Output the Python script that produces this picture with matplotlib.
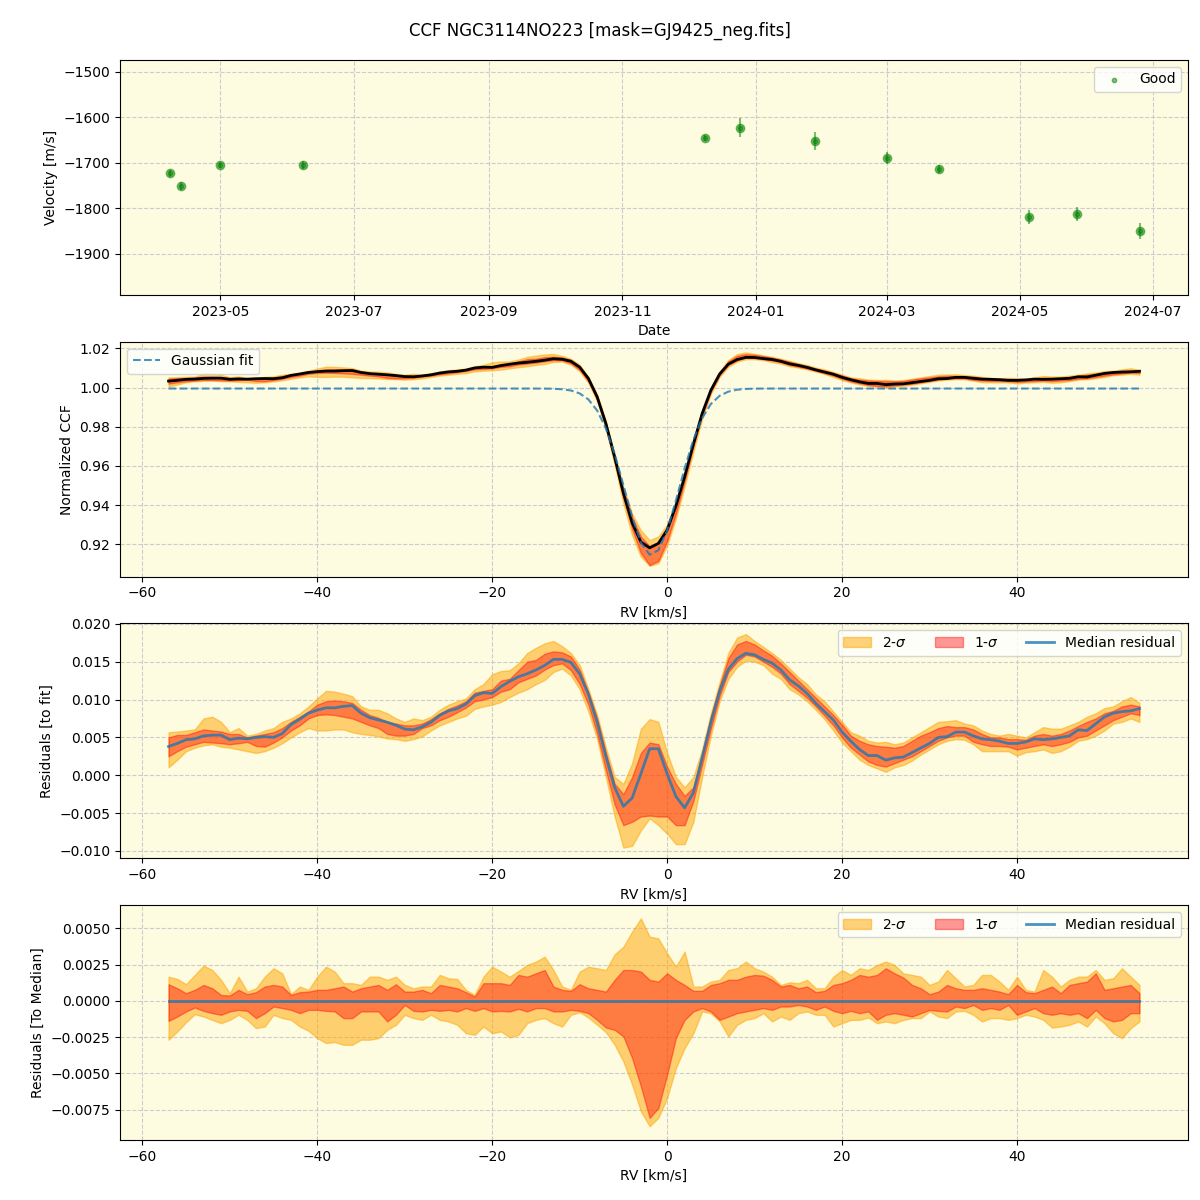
import numpy as np
import pandas as pd
import matplotlib
matplotlib.use('Agg')
import matplotlib.pyplot as plt
import matplotlib.dates as mdates
from matplotlib.ticker import MultipleLocator

# ---- time series (top panel) ----
obs_dates = ['2023-04-08', '2023-04-13', '2023-05-01', '2023-06-08', '2023-12-09', '2023-12-25',
             '2024-01-28', '2024-03-01', '2024-03-25', '2024-05-05', '2024-05-27', '2024-06-25']
velocity = [-1723, -1751, -1705, -1705, -1646, -1623, -1652, -1690, -1714, -1819, -1812, -1850]
velocity_err = [8, 8, 7, 8, 7, 21, 19, 13, 9, 15, 15, 18]

# ---- CCF grid, km/s ----
rv = np.arange(-57, 55, 1.0)

# gaussian fit parameters of the mean CCF
fit_continuum = 0.9995
fit_depth = 0.085
fit_center = -1.76
fit_sigma = 3.1

# median residual to the fit
median_resid = [
    0.0038, 0.0042, 0.0047, 0.0048, 0.0052, 0.0053, 0.0053, 0.0047, 0.0049, 0.0048,
    0.0050, 0.0051, 0.0050, 0.0055, 0.0067, 0.0074, 0.0082, 0.0086, 0.0089, 0.0089,
    0.0091, 0.0092, 0.0082, 0.0076, 0.0073, 0.0070, 0.0066, 0.0061, 0.0060, 0.0064,
    0.0070, 0.0079, 0.0085, 0.0088, 0.0094, 0.0105, 0.0109, 0.0108, 0.0117, 0.0124,
    0.0130, 0.0134, 0.0139, 0.0145, 0.0153, 0.0153, 0.0149, 0.0134, 0.0107, 0.0070,
    0.0025, -0.0016, -0.0041, -0.0030, 0.0002, 0.0035, 0.0035, 0.0002, -0.0028, -0.0043,
    -0.0023, 0.0023, 0.0070, 0.0111, 0.0140, 0.0154, 0.0161, 0.0159, 0.0153, 0.0148,
    0.0139, 0.0126, 0.0118, 0.0108, 0.0095, 0.0084, 0.0073, 0.0057, 0.0045, 0.0034,
    0.0026, 0.0026, 0.0020, 0.0023, 0.0024, 0.0030, 0.0036, 0.0042, 0.0050, 0.0051,
    0.0057, 0.0057, 0.0052, 0.0048, 0.0047, 0.0045, 0.0042, 0.0042, 0.0044, 0.0048,
    0.0047, 0.0048, 0.0050, 0.0052, 0.0060, 0.0059, 0.0068, 0.0077, 0.0082, 0.0084,
    0.0085, 0.0088]

# percentile bands of the residuals to the fit
res_2hi = [
    0.00568, 0.00577, 0.00591, 0.00605, 0.00750, 0.00773, 0.00705, 0.00568, 0.00623, 0.00523,
    0.00545, 0.00591, 0.00623, 0.00705, 0.00750, 0.00818, 0.00909, 0.01014, 0.01114, 0.01104,
    0.01077, 0.01045, 0.00909, 0.00864, 0.00864, 0.00818, 0.00750, 0.00705, 0.00750, 0.00727,
    0.00773, 0.00864, 0.00932, 0.00977, 0.01014, 0.01136, 0.01204, 0.01332, 0.01377, 0.01386,
    0.01477, 0.01613, 0.01682, 0.01741, 0.01773, 0.01704, 0.01613, 0.01454, 0.01136, 0.00795,
    0.00364, -0.00023, -0.00114, 0.00159, 0.00614, 0.00741, 0.00705, 0.00295, -0.00023, -0.00159,
    -0.00023, 0.00341, 0.00818, 0.01227, 0.01613, 0.01818, 0.01863, 0.01773, 0.01695, 0.01613,
    0.01523, 0.01409, 0.01295, 0.01204, 0.01068, 0.00977, 0.00841, 0.00705, 0.00568, 0.00523,
    0.00455, 0.00432, 0.00441, 0.00409, 0.00432, 0.00500, 0.00568, 0.00636, 0.00705, 0.00714,
    0.00727, 0.00682, 0.00659, 0.00591, 0.00545, 0.00523, 0.00545, 0.00523, 0.00500, 0.00568,
    0.00636, 0.00614, 0.00614, 0.00659, 0.00705, 0.00773, 0.00818, 0.00886, 0.00909, 0.00977,
    0.01032, 0.00955]
res_1hi = [
    0.00500, 0.00532, 0.00532, 0.00568, 0.00605, 0.00591, 0.00577, 0.00545, 0.00545, 0.00500,
    0.00523, 0.00545, 0.00568, 0.00623, 0.00705, 0.00773, 0.00841, 0.00932, 0.00977, 0.00986,
    0.00977, 0.00955, 0.00864, 0.00795, 0.00759, 0.00705, 0.00682, 0.00659, 0.00659, 0.00682,
    0.00741, 0.00818, 0.00877, 0.00923, 0.00977, 0.01091, 0.01114, 0.01136, 0.01250, 0.01273,
    0.01386, 0.01500, 0.01523, 0.01604, 0.01636, 0.01623, 0.01568, 0.01395, 0.01091, 0.00750,
    0.00295, -0.00114, -0.00250, -0.00023, 0.00295, 0.00432, 0.00409, 0.00114, -0.00114, -0.00273,
    -0.00159, 0.00273, 0.00773, 0.01182, 0.01545, 0.01727, 0.01773, 0.01727, 0.01650, 0.01577,
    0.01477, 0.01364, 0.01250, 0.01136, 0.01023, 0.00909, 0.00795, 0.00668, 0.00523, 0.00455,
    0.00409, 0.00386, 0.00377, 0.00364, 0.00386, 0.00455, 0.00523, 0.00568, 0.00623, 0.00650,
    0.00636, 0.00636, 0.00605, 0.00545, 0.00500, 0.00500, 0.00477, 0.00477, 0.00468, 0.00523,
    0.00545, 0.00523, 0.00545, 0.00591, 0.00650, 0.00705, 0.00750, 0.00818, 0.00850, 0.00909,
    0.00932, 0.00909]
res_1lo = [
    0.00250, 0.00318, 0.00377, 0.00409, 0.00441, 0.00432, 0.00423, 0.00409, 0.00423, 0.00441,
    0.00386, 0.00377, 0.00432, 0.00500, 0.00591, 0.00659, 0.00750, 0.00795, 0.00804, 0.00795,
    0.00773, 0.00750, 0.00705, 0.00659, 0.00623, 0.00545, 0.00523, 0.00523, 0.00545, 0.00623,
    0.00659, 0.00727, 0.00773, 0.00832, 0.00895, 0.00977, 0.01000, 0.01032, 0.01104, 0.01136,
    0.01227, 0.01273, 0.01318, 0.01395, 0.01454, 0.01477, 0.01386, 0.01204, 0.00932, 0.00545,
    0.00068, -0.00386, -0.00659, -0.00614, -0.00545, -0.00532, -0.00545, -0.00545, -0.00659, -0.00659,
    -0.00341, 0.00136, 0.00614, 0.01045, 0.01364, 0.01500, 0.01591, 0.01568, 0.01500, 0.01432,
    0.01341, 0.01204, 0.01114, 0.01023, 0.00909, 0.00786, 0.00659, 0.00500, 0.00364, 0.00273,
    0.00182, 0.00136, 0.00114, 0.00159, 0.00205, 0.00250, 0.00318, 0.00386, 0.00455, 0.00500,
    0.00523, 0.00523, 0.00441, 0.00409, 0.00386, 0.00386, 0.00377, 0.00341, 0.00364, 0.00386,
    0.00409, 0.00386, 0.00409, 0.00441, 0.00500, 0.00523, 0.00591, 0.00659, 0.00727, 0.00773,
    0.00818, 0.00795]
res_2lo = [
    0.00105, 0.00205, 0.00318, 0.00364, 0.00395, 0.00409, 0.00377, 0.00364, 0.00341, 0.00318,
    0.00295, 0.00318, 0.00364, 0.00423, 0.00500, 0.00568, 0.00623, 0.00591, 0.00591, 0.00605,
    0.00605, 0.00568, 0.00545, 0.00532, 0.00514, 0.00486, 0.00477, 0.00455, 0.00477, 0.00514,
    0.00591, 0.00659, 0.00705, 0.00750, 0.00786, 0.00877, 0.00909, 0.00932, 0.00968, 0.01032,
    0.01091, 0.01136, 0.01204, 0.01259, 0.01364, 0.01409, 0.01318, 0.01136, 0.00841, 0.00477,
    -0.00023, -0.00545, -0.00955, -0.00932, -0.00727, -0.00568, -0.00659, -0.00773, -0.00909, -0.00909,
    -0.00614, -0.00023, 0.00523, 0.00977, 0.01273, 0.01432, 0.01514, 0.01500, 0.01454, 0.01341,
    0.01273, 0.01136, 0.01068, 0.00977, 0.00864, 0.00741, 0.00591, 0.00432, 0.00318, 0.00205,
    0.00136, 0.00091, 0.00045, 0.00105, 0.00136, 0.00195, 0.00273, 0.00341, 0.00409, 0.00455,
    0.00477, 0.00468, 0.00409, 0.00318, 0.00318, 0.00318, 0.00318, 0.00259, 0.00305, 0.00318,
    0.00341, 0.00295, 0.00318, 0.00377, 0.00455, 0.00477, 0.00523, 0.00591, 0.00682, 0.00705,
    0.00750, 0.00705]

# percentile bands of the CCFs relative to the median CCF
dev_2hi = [
    0.00167, 0.00151, 0.00115, 0.00179, 0.00243, 0.00213, 0.00145, 0.00053, 0.00167, 0.00064,
    0.00087, 0.00167, 0.00225, 0.00190, 0.00046, 0.00099, 0.00076, 0.00167, 0.00236, 0.00202,
    0.00122, 0.00122, 0.00110, 0.00167, 0.00167, 0.00145, 0.00167, 0.00110, 0.00087, 0.00099,
    0.00099, 0.00179, 0.00156, 0.00151, 0.00076, 0.00041, 0.00167, 0.00236, 0.00202, 0.00167,
    0.00206, 0.00248, 0.00271, 0.00305, 0.00213, 0.00099, 0.00076, 0.00202, 0.00236, 0.00225,
    0.00213, 0.00321, 0.00374, 0.00477, 0.00569, 0.00443, 0.00431, 0.00328, 0.00236, 0.00340,
    0.00099, 0.00099, 0.00133, 0.00145, 0.00213, 0.00225, 0.00271, 0.00225, 0.00202, 0.00167,
    0.00110, 0.00128, 0.00122, 0.00145, 0.00087, 0.00087, 0.00167, 0.00213, 0.00179, 0.00225,
    0.00213, 0.00248, 0.00271, 0.00248, 0.00190, 0.00179, 0.00167, 0.00110, 0.00133, 0.00213,
    0.00156, 0.00099, 0.00110, 0.00179, 0.00179, 0.00133, 0.00076, 0.00167, 0.00076, 0.00064,
    0.00213, 0.00167, 0.00099, 0.00145, 0.00167, 0.00167, 0.00213, 0.00145, 0.00156, 0.00225,
    0.00167, 0.00110]
dev_1hi = [
    0.00115, 0.00087, 0.00053, 0.00076, 0.00110, 0.00087, 0.00041, 0.00037, 0.00076, 0.00046,
    0.00060, 0.00099, 0.00110, 0.00099, 0.00041, 0.00060, 0.00064, 0.00076, 0.00076, 0.00087,
    0.00099, 0.00064, 0.00087, 0.00099, 0.00110, 0.00076, 0.00115, 0.00064, 0.00064, 0.00076,
    0.00053, 0.00110, 0.00099, 0.00087, 0.00060, 0.00030, 0.00122, 0.00122, 0.00122, 0.00110,
    0.00179, 0.00167, 0.00190, 0.00213, 0.00099, 0.00076, 0.00069, 0.00115, 0.00087, 0.00076,
    0.00064, 0.00145, 0.00213, 0.00213, 0.00202, 0.00145, 0.00133, 0.00190, 0.00145, 0.00110,
    0.00069, 0.00069, 0.00110, 0.00122, 0.00145, 0.00145, 0.00167, 0.00179, 0.00174, 0.00145,
    0.00099, 0.00110, 0.00087, 0.00099, 0.00060, 0.00069, 0.00110, 0.00122, 0.00145, 0.00179,
    0.00167, 0.00179, 0.00225, 0.00190, 0.00161, 0.00110, 0.00087, 0.00046, 0.00064, 0.00110,
    0.00087, 0.00076, 0.00076, 0.00087, 0.00076, 0.00064, 0.00046, 0.00110, 0.00060, 0.00053,
    0.00076, 0.00099, 0.00053, 0.00110, 0.00122, 0.00133, 0.00190, 0.00076, 0.00087, 0.00099,
    0.00110, 0.00053]
dev_1lo = [
    -0.00138, -0.00108, -0.00073, -0.00046, -0.00069, -0.00085, -0.00096, -0.00073, -0.00062, -0.00069,
    -0.00119, -0.00085, -0.00039, -0.00050, -0.00062, -0.00085, -0.00062, -0.00062, -0.00069, -0.00073,
    -0.00119, -0.00119, -0.00073, -0.00073, -0.00073, -0.00142, -0.00096, -0.00028, -0.00069, -0.00073,
    -0.00062, -0.00069, -0.00062, -0.00073, -0.00050, -0.00069, -0.00050, -0.00073, -0.00069, -0.00073,
    -0.00055, -0.00073, -0.00050, -0.00050, -0.00073, -0.00073, -0.00062, -0.00069, -0.00085, -0.00131,
    -0.00184, -0.00200, -0.00245, -0.00395, -0.00590, -0.00807, -0.00739, -0.00509, -0.00257, -0.00131,
    -0.00073, -0.00050, -0.00073, -0.00131, -0.00108, -0.00085, -0.00073, -0.00062, -0.00050, -0.00062,
    -0.00039, -0.00039, -0.00028, -0.00039, -0.00062, -0.00039, -0.00069, -0.00085, -0.00069, -0.00085,
    -0.00073, -0.00131, -0.00096, -0.00085, -0.00096, -0.00108, -0.00085, -0.00062, -0.00069, -0.00073,
    -0.00039, -0.00050, -0.00028, -0.00062, -0.00050, -0.00062, -0.00028, -0.00096, -0.00073, -0.00050,
    -0.00085, -0.00096, -0.00085, -0.00096, -0.00085, -0.00119, -0.00062, -0.00119, -0.00142, -0.00131,
    -0.00085, -0.00085]
dev_2lo = [
    -0.00268, -0.00211, -0.00147, -0.00092, -0.00108, -0.00131, -0.00154, -0.00131, -0.00096, -0.00131,
    -0.00188, -0.00177, -0.00096, -0.00119, -0.00131, -0.00177, -0.00206, -0.00257, -0.00291, -0.00284,
    -0.00303, -0.00303, -0.00268, -0.00268, -0.00257, -0.00200, -0.00165, -0.00096, -0.00119, -0.00131,
    -0.00096, -0.00131, -0.00142, -0.00165, -0.00223, -0.00234, -0.00177, -0.00223, -0.00211, -0.00252,
    -0.00234, -0.00154, -0.00131, -0.00119, -0.00154, -0.00177, -0.00096, -0.00078, -0.00115, -0.00165,
    -0.00216, -0.00303, -0.00418, -0.00578, -0.00762, -0.00865, -0.00807, -0.00670, -0.00463, -0.00326,
    -0.00223, -0.00073, -0.00085, -0.00142, -0.00245, -0.00165, -0.00131, -0.00119, -0.00085, -0.00142,
    -0.00108, -0.00131, -0.00085, -0.00073, -0.00096, -0.00096, -0.00177, -0.00154, -0.00131, -0.00131,
    -0.00115, -0.00154, -0.00142, -0.00154, -0.00131, -0.00119, -0.00119, -0.00073, -0.00108, -0.00119,
    -0.00073, -0.00069, -0.00096, -0.00142, -0.00119, -0.00119, -0.00131, -0.00119, -0.00096, -0.00108,
    -0.00131, -0.00184, -0.00177, -0.00165, -0.00142, -0.00177, -0.00108, -0.00154, -0.00223, -0.00257,
    -0.00188, -0.00142]

median_resid = np.array(median_resid)
gauss_fit = fit_continuum - fit_depth * np.exp(-(rv - fit_center) ** 2 / (2 * fit_sigma ** 2))
median_ccf = gauss_fit + median_resid

bg = '#fdfbe0'
c2 = 'orange'
c1 = 'red'
grid_kw = dict(linestyle='--', color='#cccccc', linewidth=0.8)

fig, axes = plt.subplots(4, 1, figsize=(12, 12), dpi=100)
fig.subplots_adjust(left=0.1, right=0.99, top=0.95, bottom=0.05, hspace=0.2)
fig.suptitle('CCF NGC3114NO223 [mask=GJ9425_neg.fits]', fontsize=12, y=0.982)

# panel 1: velocities
ax = axes[0]
t = pd.to_datetime(obs_dates)
ax.errorbar(t, velocity, yerr=velocity_err, fmt='o', color='green', alpha=0.5, ms=6, elinewidth=1.5)
ax.scatter(t, velocity, color='green', alpha=0.5, s=10, label='Good')
ax.set_ylim(-1990, -1474)
ax.set_xlim(pd.Timestamp('2023-03-16'), pd.Timestamp('2024-07-17'))
ax.xaxis.set_major_locator(mdates.MonthLocator(bymonth=[1, 3, 5, 7, 9, 11]))
ax.xaxis.set_major_formatter(mdates.DateFormatter('%Y-%m'))
ax.set_xlabel('Date')
ax.set_ylabel('Velocity [m/s]')
ax.legend(loc='upper right')

# panel 2: CCF
ax = axes[1]
ax.fill_between(rv, gauss_fit + np.array(res_2lo), gauss_fit + np.array(res_2hi), color=c2, alpha=0.5)
ax.fill_between(rv, gauss_fit + np.array(res_1lo), gauss_fit + np.array(res_1hi), color=c1, alpha=0.4)
ax.plot(rv, median_ccf, color='black', lw=2)
ax.plot(rv, gauss_fit, '--', color='C0', alpha=0.8, label='Gaussian fit')
ax.set_xlabel('RV [km/s]')
ax.set_ylabel('Normalized CCF')
ax.legend(loc='upper left')

# panel 3: residuals to fit
ax = axes[2]
ax.fill_between(rv, res_2lo, res_2hi, color=c2, alpha=0.5, label='2-$\\sigma$')
ax.fill_between(rv, res_1lo, res_1hi, color=c1, alpha=0.4, label='1-$\\sigma$')
ax.plot(rv, median_resid, color='C0', alpha=0.8, lw=2, label='Median residual')
ax.set_xlabel('RV [km/s]')
ax.set_ylabel('Residuals [to fit]')
ax.legend(loc='upper right', ncol=3)

# panel 4: residuals to median
ax = axes[3]
ax.fill_between(rv, dev_2lo, dev_2hi, color=c2, alpha=0.5, label='2-$\\sigma$')
ax.fill_between(rv, dev_1lo, dev_1hi, color=c1, alpha=0.4, label='1-$\\sigma$')
ax.plot(rv, np.zeros_like(rv), color='C0', alpha=0.8, lw=2, label='Median residual')
ax.set_ylim(-0.0096, 0.0066)
ax.yaxis.set_major_locator(MultipleLocator(0.0025))
ax.set_xlabel('RV [km/s]')
ax.set_ylabel('Residuals [To Median]')
ax.legend(loc='upper right', ncol=3)

for ax in axes:
    ax.set_facecolor(bg)
    ax.grid(True, **grid_kw)
    ax.set_axisbelow(True)

fig.savefig('out.png', dpi=100)
